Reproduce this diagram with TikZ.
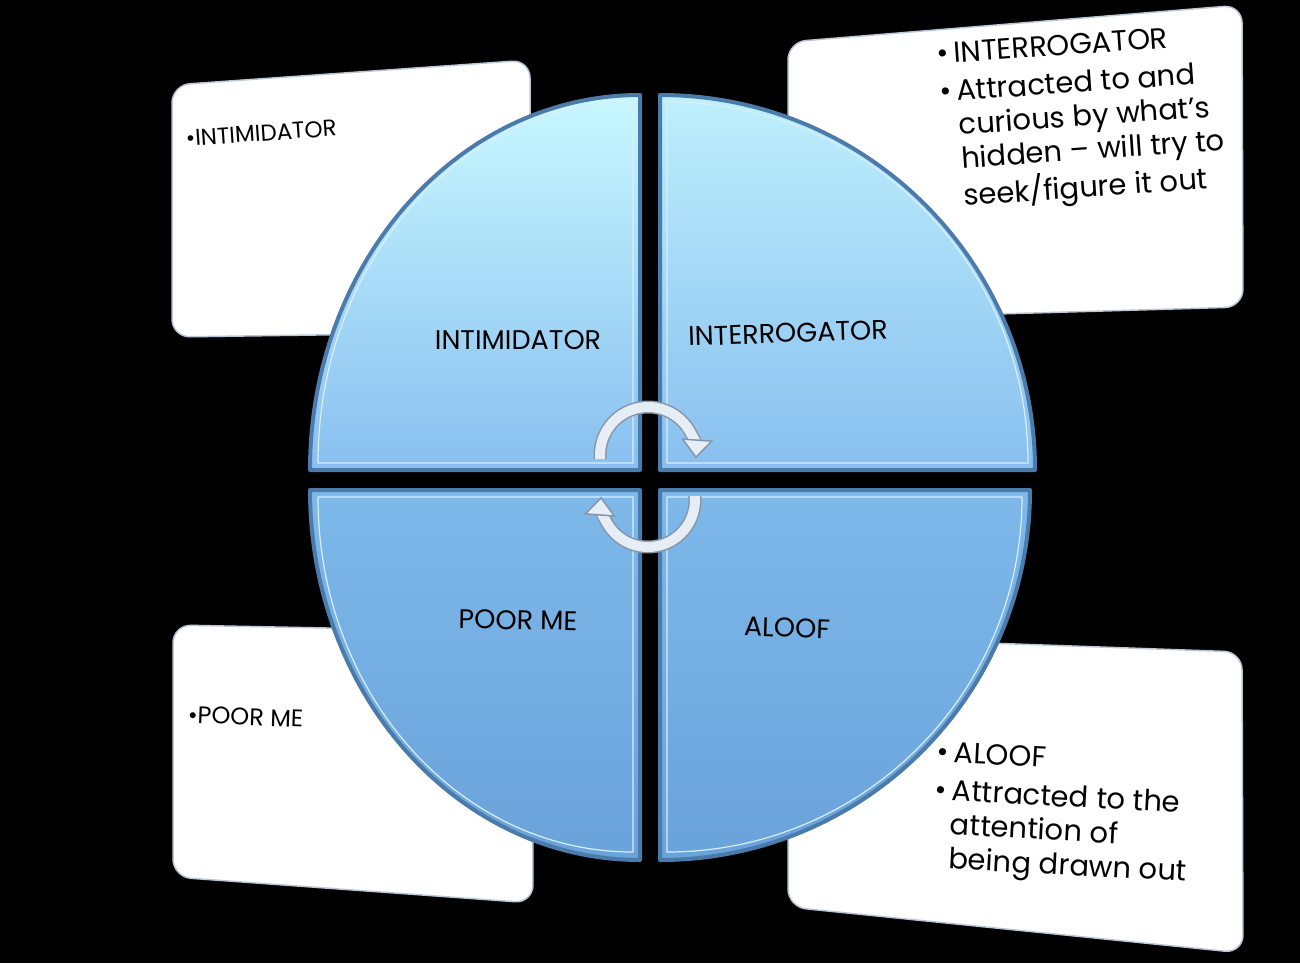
\documentclass[tikz,border=0pt]{standalone}
\usepackage{fontspec}
\setmainfont{Poppins}
\usetikzlibrary{arrows.meta}

\definecolor{cardedge}{HTML}{B8C8D8}
\definecolor{qedge}{HTML}{4A7BAA}
\definecolor{qhigh}{HTML}{D8EEF8}
\definecolor{upTop}{HTML}{C8F8FF}
\definecolor{upBot}{HTML}{88BFEF}
\definecolor{loTop}{HTML}{7EB9EA}
\definecolor{loBot}{HTML}{6AA2DA}
\definecolor{arrdark}{HTML}{8596A8}
\definecolor{arrlight}{HTML}{E6EDF4}

\begin{document}
\begin{tikzpicture}[x=1pt, y=-1pt,
  card/.style={fill=white, draw=cardedge, line width=1.5pt, rounded corners=18pt},
  quad/.style={draw=qedge, line width=4pt, line join=round},
  rim/.style={draw=qhigh, line width=1.2pt, line join=round},
  cyc/.style={draw=arrdark, double=arrlight, double distance=10pt, line width=1.5pt,
    -{Triangle[length=19pt, width=32pt, fill=arrlight, color=arrdark, line width=1.5pt]}},
  lbl/.style={font=\fontsize{27}{32}\selectfont, inner sep=0pt},
  txt/.style={inner sep=0pt, anchor=north west, align=left}]

  % Background
  \fill[black] (0,0) rectangle (1300,963);

  % Cards behind the circle
  \draw[card] (172,85) -- (530,60) -- (531,332) -- (172,337) -- cycle;
  \draw[card] (788,42) -- (1242,5) -- (1243,307) -- (788,320) -- cycle;
  \draw[card] (173,625) -- (532,632) -- (533,903) -- (173,877) -- cycle;
  \draw[card] (788,636) -- (1242,652) -- (1243,953) -- (788,907) -- cycle;

  % Quadrants
  \shadedraw[quad, top color=upTop, bottom color=upBot]
    (640,470) -- (310,470) arc[start angle=180, end angle=270, x radius=330, y radius=375] -- cycle;
  \shadedraw[quad, top color=upTop!85!upBot, bottom color=upBot]
    (660,470) -- (660,95) arc[start angle=270, end angle=360, x radius=375, y radius=375] -- cycle;
  \shadedraw[quad, top color=loTop, bottom color=loBot]
    (640,490) -- (640,860) arc[start angle=90, end angle=180, x radius=330, y radius=370] -- cycle;
  \shadedraw[quad, top color=loTop, bottom color=loBot]
    (660,490) -- (1030,490) arc[start angle=0, end angle=90, x radius=370, y radius=370] -- cycle;

  % Inner rims
  \draw[rim] (633,463) -- (318,463) arc[start angle=180, end angle=270, x radius=315, y radius=361] -- cycle;
  \draw[rim] (667,463) -- (667,102) arc[start angle=270, end angle=360, x radius=361, y radius=361] -- cycle;
  \draw[rim] (633,497) -- (633,852) arc[start angle=90, end angle=180, x radius=315, y radius=355] -- cycle;
  \draw[rim] (667,497) -- (1022,497) arc[start angle=0, end angle=90, x radius=355, y radius=355] -- cycle;

  % Quadrant labels
  \node[lbl] (intim) at (518,340) {INTIMIDATOR};
  \node[lbl, rotate=2] (inter) at (788,333) {INTERROGATOR};
  \node[lbl, rotate=-1] (poor) at (518,620) {POOR ME};
  \node[lbl, rotate=-2] (aloof) at (787,628) {ALOOF};

  % Card texts
  \node[txt, rotate=4, font=\fontsize{23}{28}\selectfont] (intimText) at (185,130)
    {\textbullet INTIMIDATOR};
  \node[txt, rotate=4, font=\fontsize{29}{34}\selectfont] (interText) at (936,40)
    {\begin{tabular}{@{}l@{\,}l@{}}
      \textbullet & INTERROGATOR\\[4pt]
      \textbullet & Attracted to and\\
      & curious by what’s\\
      & hidden – will try to\\
      & seek/figure it out
    \end{tabular}};
  \node[txt, rotate=-2, font=\fontsize{24}{29}\selectfont] (poorText) at (188,706)
    {\textbullet POOR ME};
  \node[txt, rotate=-3, font=\fontsize{29}{34}\selectfont] (aloofText) at (938,738)
    {\begin{tabular}{@{}l@{\,}l@{}}
      \textbullet & ALOOF\\[4pt]
      \textbullet & Attracted to the\\
      & attention of\\
      & being drawn out
    \end{tabular}};

  % Cycle arrows
  \coordinate (cycTop) at (648,455);
  \coordinate (cycBot) at (648,500);
  \draw[cyc] ([shift={(175:48)}]cycTop) arc[start angle=175, end angle=364, radius=48];
  \draw[cyc] ([shift={(-5:47)}]cycBot) arc[start angle=-5, end angle=184, radius=47];
\end{tikzpicture}
\end{document}
